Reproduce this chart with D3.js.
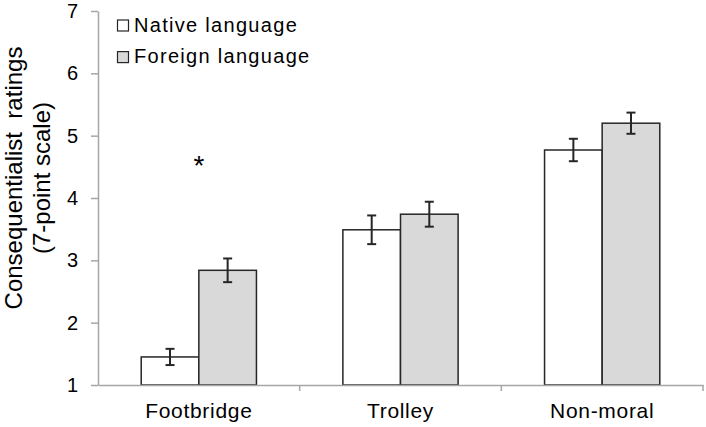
<!DOCTYPE html>
<html>
<head>
<meta charset="utf-8">
<script src="https://cdn.jsdelivr.net/npm/d3@7"></script>
<style>
  body { margin: 0; background: #fff; }
  text { font-family: "Liberation Sans", Arial, sans-serif; fill: #000; }
</style>
</head>
<body>
<div id="chart"></div>
<script>
// Data
var categories = ["Footbridge", "Trolley", "Non-moral"];
var seriesNames = ["Native language", "Foreign language"];
var nativeMeans = [1.45, 3.49, 4.77];
var nativeErr = [0.13, 0.23, 0.18];
var foreignMeans = [2.84, 3.74, 5.20];
var foreignErr = [0.19, 0.20, 0.17];
var yTicks = [1, 2, 3, 4, 5, 6, 7];

var fills = ["#ffffff", "#d9d9d9"];

var margin = {top: 11, right: 3, bottom: 42, left: 98},
    width = 706 - margin.left - margin.right,
    height = 427 - margin.top - margin.bottom;

var svg = d3.select("#chart").append("svg")
    .attr("width", 706)
    .attr("height", 427)
  .append("g")
    .attr("transform", "translate(" + margin.left + "," + margin.top + ")");

// Scales
var x = d3.scaleBand()
    .domain(categories)
    .range([0, width])
    .paddingInner(0)
    .paddingOuter(0);

var x1 = d3.scaleBand()
    .domain(seriesNames)
    .range([0, x.bandwidth()])
    .paddingInner(0)
    .paddingOuter(0.75);

var y = d3.scaleLinear()
    .domain([1, 7])
    .range([height, 0]);

// Build rows for bars
var rows = [];
categories.forEach(function(c, i) {
  rows.push({cat: c, s: seriesNames[0], v: nativeMeans[i], e: nativeErr[i], k: 0});
  rows.push({cat: c, s: seriesNames[1], v: foreignMeans[i], e: foreignErr[i], k: 1});
});

// Bars
svg.selectAll(".bar")
    .data(rows)
  .enter().append("rect")
    .attr("class", "bar")
    .attr("x", function(d) { return x(d.cat) + x1(d.s); })
    .attr("width", x1.bandwidth())
    .attr("y", function(d) { return y(d.v); })
    .attr("height", function(d) { return height - y(d.v); })
    .attr("fill", function(d) { return fills[d.k]; })
    .attr("stroke", "#262626")
    .attr("stroke-width", 1.5);

// Error bars
var eb = svg.selectAll(".err")
    .data(rows)
  .enter().append("g")
    .attr("class", "err")
    .attr("stroke", "#262626")
    .attr("stroke-width", 2);

function cx(d) { return x(d.cat) + x1(d.s) + x1.bandwidth() / 2; }

eb.append("line")
    .attr("x1", cx)
    .attr("x2", cx)
    .attr("y1", function(d) { return y(d.v + d.e); })
    .attr("y2", function(d) { return y(d.v - d.e); });

[1, -1].forEach(function(sign) {
  eb.append("line")
      .attr("x1", function(d) { return cx(d) - 4.5; })
      .attr("x2", function(d) { return cx(d) + 4.5; })
      .attr("y1", function(d) { return y(d.v + sign * d.e); })
      .attr("y2", function(d) { return y(d.v + sign * d.e); });
});

// Significance marker
svg.append("text")
    .attr("x", x(categories[0]) + x.bandwidth() / 2)
    .attr("y", y(4.37))
    .attr("text-anchor", "middle")
    .style("font-size", "28px")
    .text("*");

// X axis
var xAxis = svg.append("g")
    .attr("transform", "translate(0," + height + ")")
    .call(d3.axisBottom(x).tickSize(0).tickPadding(18));
xAxis.select(".domain").attr("stroke", "#a6a6a6").attr("stroke-width", 1.5);
xAxis.selectAll("text").style("font-size", "21px").style("letter-spacing", "0.7px");

// Category boundary ticks
svg.selectAll(".xtick")
    .data(categories.slice(1).concat([null]))
  .enter().append("line")
    .attr("x1", function(d) { return d ? x(d) : width; })
    .attr("x2", function(d) { return d ? x(d) : width; })
    .attr("y1", height)
    .attr("y2", height + 6)
    .attr("stroke", "#a6a6a6")
    .attr("stroke-width", 1.5);

// Y axis
var yAxis = svg.append("g")
    .call(d3.axisLeft(y).tickValues(yTicks).tickFormat(d3.format("d"))
      .tickSize(7).tickSizeOuter(0).tickPadding(13));
yAxis.select(".domain").attr("stroke", "#a6a6a6").attr("stroke-width", 1.5);
yAxis.selectAll(".tick line").attr("stroke", "#a6a6a6").attr("stroke-width", 1.5);
yAxis.selectAll("text").style("font-size", "20px");

// Y title
var yTitle = svg.append("text")
    .attr("transform", "translate(-76,167) rotate(-90)")
    .attr("text-anchor", "middle")
    .attr("xml:space", "preserve")
    .style("font-size", "24px");
yTitle.append("tspan").attr("x", 0).attr("dy", 0).text("Consequentialist  ratings");
yTitle.append("tspan").attr("x", 0).attr("dy", 28).text("(7-point scale)");

// Legend
var legend = svg.selectAll(".legend")
    .data(seriesNames)
  .enter().append("g")
    .attr("class", "legend")
    .attr("transform", function(d, i) { return "translate(19.5," + (9 + i * 31.6) + ")"; });

legend.append("rect")
    .attr("width", 11)
    .attr("height", 11)
    .attr("fill", function(d, i) { return fills[i]; })
    .attr("stroke", "#262626")
    .attr("stroke-width", 1.2);

legend.append("text")
    .attr("x", 16.5)
    .attr("y", 11.7)
    .style("font-size", "20px")
    .style("letter-spacing", "1.3px")
    .text(function(d) { return d; });
</script>
</body>
</html>
